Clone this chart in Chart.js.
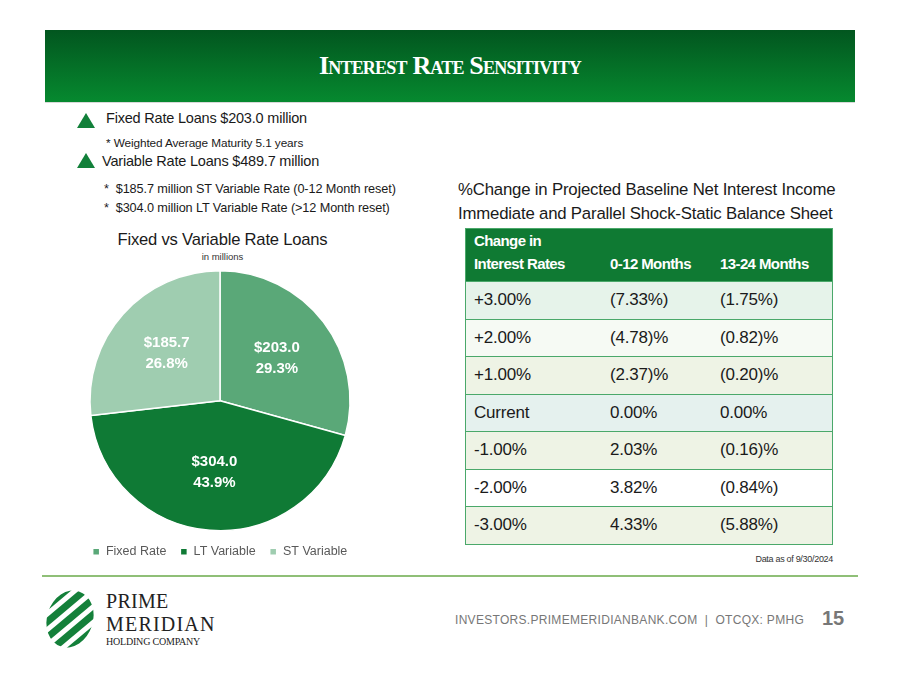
<!DOCTYPE html>
<html lang="en">
<head>
  <meta charset="UTF-8" />
  <title>Interest Rate Sensitivity</title>
  <script src="https://cdn.jsdelivr.net/npm/chart.js"></script>
  <style>
    body { margin: 0; width: 900px; height: 675px; background: #fff; font-family: "Liberation Sans", Arial, sans-serif; position: relative; overflow: hidden; }
    .abs { position: absolute; white-space: nowrap; }
    .band { left: 45px; top: 30px; width: 810px; height: 72px; background: linear-gradient(#02561f, #06892f); }
    .band-title { left: 45px; top: 51px; width: 810px; text-align: center; color: #fff; font-family: "Liberation Serif", serif; font-weight: bold; font-size: 26px; font-variant: small-caps; letter-spacing: -0.8px; }
    .tri { width: 0; height: 0; border-left: 9px solid transparent; border-right: 9px solid transparent; border-bottom: 15px solid #12803a; }
    .big { font-size: 14.5px; color: #1a1a1a; letter-spacing: -0.2px; }
    .small { font-size: 12.7px; color: #1a1a1a; letter-spacing: -0.1px; }
    .rt { font-size: 16.8px; color: #1a1a1a; letter-spacing: -0.2px; }
    .logo { font-family: "Liberation Serif", serif; color: #222; line-height: 1; }
    table { border-collapse: collapse; }
    #tbl { left: 465px; top: 228px; width: 368px; border: 1.5px solid #4aa86a; }
    #tbl th { background: #0f7a33; color: #fff; font-size: 15px; font-weight: bold; text-align: left; height: 46px; vertical-align: bottom; padding: 0 0 6px 0; letter-spacing: -0.6px; line-height: 23px; }
    #tbl td { height: 36.5px; border-top: 1.5px solid #4aa86a; font-size: 17px; color: #1a1a1a; padding: 0; letter-spacing: -0.2px; }
    .c1 { padding-left: 8px !important; width: 136px; }
    .c2 { width: 110px; }
    #pieBox { left: 70px; top: 262px; width: 300px; height: 306px; }
  </style>
</head>
<body>
  <div class="abs band"></div>
  <div class="abs band-title">Interest Rate Sensitivity</div>
  <div class="abs" style="left:45px;top:102px;width:810px;height:1px;background:#d8d8d8"></div>

  <div class="abs tri" style="left:77px;top:113px"></div>
  <div class="abs big" style="left:106px;top:110px">Fixed Rate Loans $203.0 million</div>
  <div class="abs small" style="left:106px;top:136px;font-size:11.8px">* Weighted Average Maturity 5.1 years</div>
  <div class="abs tri" style="left:77px;top:153px"></div>
  <div class="abs big" style="left:102px;top:153px">Variable Rate Loans $489.7 million</div>
  <div class="abs small" style="left:104px;top:182px">*&nbsp; $185.7 million ST Variable Rate (0-12 Month reset)</div>
  <div class="abs small" style="left:104px;top:201px">*&nbsp; $304.0 million LT Variable Rate (&gt;12 Month reset)</div>

  <div class="abs" style="left:90px;top:230px;width:265px;text-align:center;font-size:16.6px;color:#1a1a1a;letter-spacing:-0.2px">Fixed vs Variable Rate Loans</div>
  <div class="abs" style="left:90px;top:251px;width:265px;text-align:center;font-size:9.5px;color:#333">in millions</div>

  <div class="abs" id="pieBox"><canvas id="pieChart"></canvas></div>

  <div class="abs rt" style="left:458px;top:180px">%Change in Projected Baseline Net Interest Income</div>
  <div class="abs rt" style="left:458px;top:204px">Immediate and Parallel Shock-Static Balance Sheet</div>

  <table class="abs" id="tbl"></table>
  <div class="abs" style="left:700px;top:554px;width:133px;text-align:right;font-size:9px;color:#333;letter-spacing:-0.3px">Data as of 9/30/2024</div>

  <div class="abs" style="left:42px;top:575px;width:816px;height:2px;background:#8fbf77"></div>

  <svg class="abs" style="left:42px;top:588px" width="60" height="62" viewBox="0 0 60 62">
    <defs>
      <clipPath id="egg"><ellipse cx="28" cy="31" rx="23" ry="29" transform="rotate(18 28 31)" /></clipPath>
    </defs>
    <g clip-path="url(#egg)" fill="#14803a">
      <rect x="-20" y="4" width="90" height="6" transform="rotate(-40 28 31)" />
      <rect x="-20" y="15" width="90" height="7" transform="rotate(-40 28 31)" />
      <rect x="-20" y="27" width="90" height="7" transform="rotate(-40 28 31)" />
      <rect x="-20" y="39" width="90" height="7" transform="rotate(-40 28 31)" />
      <rect x="-20" y="51" width="90" height="6" transform="rotate(-40 28 31)" />
    </g>
  </svg>
  <div class="abs logo" style="left:106px;top:591px;font-size:20px;letter-spacing:0.3px">PRIME</div>
  <div class="abs logo" style="left:106px;top:614px;font-size:20px;letter-spacing:1.2px">MERIDIAN</div>
  <div class="abs logo" style="left:106px;top:637px;font-size:10px;letter-spacing:-0.2px">HOLDING COMPANY</div>

  <div class="abs" style="left:455px;top:613px;font-size:12px;color:#777;letter-spacing:0.3px">INVESTORS.PRIMEMERIDIANBANK.COM&nbsp; |&nbsp; OTCQX: PMHG</div>
  <div class="abs" style="left:822px;top:607px;font-size:20px;font-weight:bold;color:#777">15</div>

  <script>
    // pie data (in millions)
    const loanTypes = ['Fixed Rate', 'LT Variable', 'ST Variable'];
    const loanAmounts = [203.0, 304.0, 185.7];
    const loanColors = ['#5aa878', '#0f7a35', '#9fcdb0'];

    // rate shock table
    const tableHead = ['Change in<br>Interest Rates', '0-12 Months', '13-24 Months'];
    const rateShocks = ['+3.00%', '+2.00%', '+1.00%', 'Current', '-1.00%', '-2.00%', '-3.00%'];
    const nii0to12 = ['(7.33%)', '(4.78)%', '(2.37)%', '0.00%', '2.03%', '3.82%', '4.33%'];
    const nii13to24 = ['(1.75%)', '(0.82)%', '(0.20)%', '0.00%', '(0.16)%', '(0.84%)', '(5.88%)'];
    const rowColors = ['#e6f3ea', '#f6faf4', '#eef3e5', '#e5f1ee', '#eef3e5', '#ffffff', '#eef3e5'];

    const tbl = document.getElementById('tbl');
    let html = '<tr><th class="c1">' + tableHead[0] + '</th><th class="c2">' + tableHead[1] + '</th><th>' + tableHead[2] + '</th></tr>';
    rateShocks.forEach((r, i) => {
      html += '<tr style="background:' + rowColors[i] + '"><td class="c1">' + r + '</td><td class="c2">' + nii0to12[i] + '</td><td>' + nii13to24[i] + '</td></tr>';
    });
    tbl.innerHTML = html;

    const total = loanAmounts.reduce((a, b) => a + b, 0);

    // draws "$value / pct" inside each slice
    const sliceLabels = {
      id: 'sliceLabels',
      afterDatasetsDraw(chart) {
        const ctx = chart.ctx;
        const meta = chart.getDatasetMeta(0);
        ctx.save();
        ctx.fillStyle = '#fff';
        ctx.font = 'bold 15px "Liberation Sans", Arial, sans-serif';
        ctx.textAlign = 'center';
        ctx.textBaseline = 'middle';
        meta.data.forEach((arc, i) => {
          const p = arc.getCenterPoint();
          const cx = arc.x + (p.x - arc.x) * 1.1;
          const cy = arc.y + (p.y - arc.y) * 1.1;
          ctx.fillText('$' + loanAmounts[i].toFixed(1), cx, cy - 10);
          ctx.fillText((loanAmounts[i] / total * 100).toFixed(1) + '%', cx, cy + 11);
        });
        ctx.restore();
      }
    };

    new Chart(document.getElementById('pieChart'), {
      type: 'pie',
      data: {
        labels: loanTypes,
        datasets: [{
          data: loanAmounts,
          backgroundColor: loanColors,
          borderColor: '#fff',
          borderWidth: 1.5
        }]
      },
      options: {
        responsive: true,
        maintainAspectRatio: false,
        animation: false,
        layout: { padding: { top: 8, bottom: 0 } },
        plugins: {
          legend: {
            position: 'bottom',
            labels: { boxWidth: 7, boxHeight: 7, padding: 14, color: '#595959', font: { size: 12.5, family: '"Liberation Sans", Arial' } }
          },
          tooltip: { enabled: false }
        }
      },
      plugins: [sliceLabels]
    });
  </script>
</body>
</html>
